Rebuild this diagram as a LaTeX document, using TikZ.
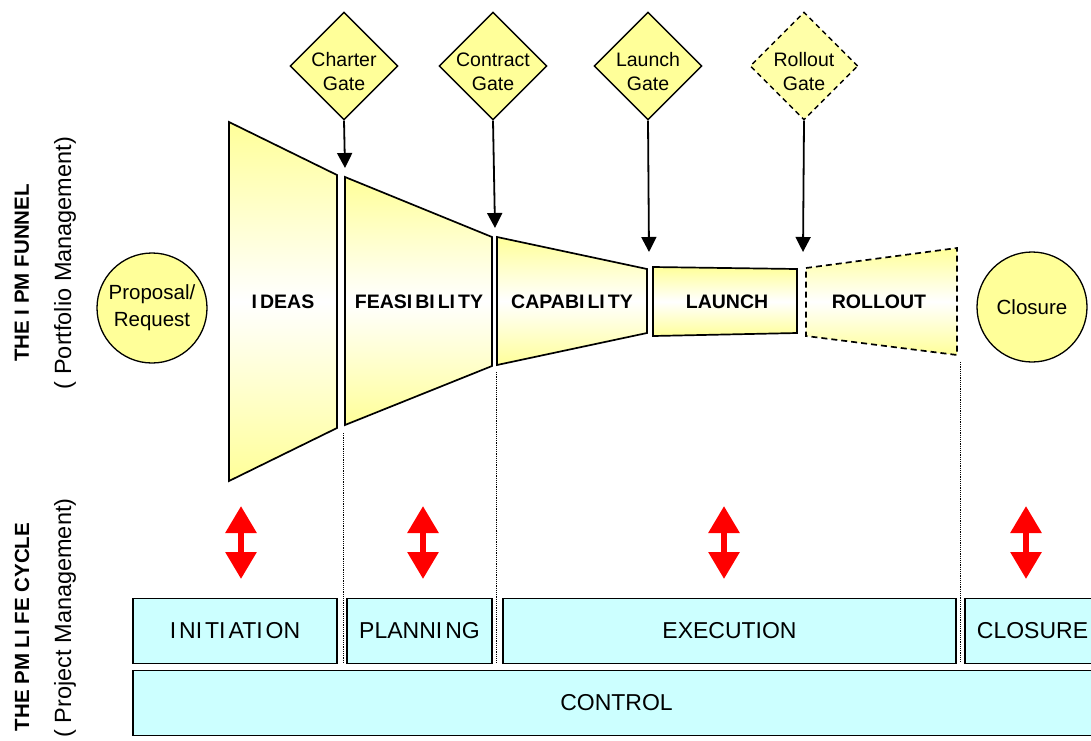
\documentclass[tikz,border=0pt]{standalone}
\usepackage{fontspec}
\setmainfont{Liberation Sans}
\usetikzlibrary{arrows.meta,shapes.geometric}
\definecolor{ipmyellow}{HTML}{FFFF99}
\definecolor{ipmcyan}{HTML}{CCFFFF}
\definecolor{ipmred}{HTML}{FF0000}
\newcommand{\gp}{\kern3pt}
\begin{document}
\begin{tikzpicture}[x=1pt,y=-1pt,
  funnelseg/.style={draw=black, line width=1.7pt, line join=miter, top color=ipmyellow, bottom color=ipmyellow, middle color=white},
  funneltext/.style={font=\bfseries\fontsize{19.5}{22}\selectfont},
  gate/.style={diamond, draw=black, line width=1.4pt, fill=ipmyellow, minimum width=108pt, minimum height=108pt, inner sep=0pt},
  gatetext/.style={align=center, font=\fontsize{19.5}{24}\selectfont},
  gatearrow/.style={draw=black, line width=1.8pt, -{Triangle[length=15pt,width=15pt]}},
  endcircle/.style={circle, draw=black, line width=1.3pt, fill=ipmyellow, minimum size=110pt, inner sep=0pt, align=center, font=\fontsize{20.5}{27}\selectfont},
  lcbox/.style={draw=black, line width=1.4pt, fill=ipmcyan, inner sep=0pt, minimum height=65pt, font=\fontsize{23}{25}\selectfont},
  dotline/.style={draw=black, line width=1pt, dash pattern=on 1.2pt off 1pt},
  redarrow/.style={draw=ipmred, line width=6pt, {Triangle[length=27pt,width=30pt]}-{Triangle[length=27pt,width=30pt]}},
  sidebold/.style={rotate=90, font=\bfseries\fontsize{20.5}{22}\selectfont},
  sidereg/.style={rotate=90, font=\fontsize{23.5}{26}\selectfont}
]
\useasboundingbox (0,0) rectangle (1091,740);

% side labels
\node[sidebold] (lab1) at (22,273) {THE I PM FUNNEL};
\node[sidereg] (lab2) at (65,263) {( Portfolio Management)};
\node[sidebold] (lab3) at (22,627) {THE PM LI FE CYCLE};
\node[sidereg] (lab4) at (65,618) {( Project Management)};

% end circles
\node[endcircle] (prop) at (152,308) {Proposal/\\Request};
\node[endcircle] (clos) at (1032,307) {Closure};

% funnel segments
\path[funnelseg] (229,122) -- (337,175) -- (337,428) -- (229,481) -- cycle;
\path[funnelseg] (345,177) -- (492,237) -- (492,366) -- (345,425) -- cycle;
\path[funnelseg] (497,237) -- (647,269) -- (647,333) -- (497,365) -- cycle;
\path[funnelseg] (653,267) -- (797,269) -- (797,333) -- (653,336) -- cycle;
\path[funnelseg, dash pattern=on 6pt off 4pt] (806,268) -- (957,248) -- (957,355) -- (806,336) -- cycle;
\node[funneltext] (ideas) at (283,302) {I\gp DEAS};
\node[funneltext] (feas) at (419,302) {FEASI\gp BI\gp LI\gp TY};
\node[funneltext] (capa) at (572,302) {CAPABI\gp LI\gp TY};
\node[funneltext] (laun) at (727,302) {LAUNCH};
\node[funneltext] (roll) at (879,302) {ROLLOUT};

% gates
\node[gate] (g1) at (344,66) {};
\node[gate] (g2) at (493,66) {};
\node[gate] (g3) at (648,66) {};
\node[gate, dash pattern=on 5pt off 4pt, fill=ipmyellow!85!white] (g4) at (804,66) {};
\node[gatetext] (g1t) at (344,72) {Charter\\Gate};
\node[gatetext] (g2t) at (493,72) {Contract\\Gate};
\node[gatetext] (g3t) at (648,72) {Launch\\Gate};
\node[gatetext] (g4t) at (804,72) {Rollout\\Gate};

\coordinate (t1) at (345,168);
\coordinate (t2) at (495,228);
\coordinate (t3) at (649,252);
\coordinate (t4) at (803,252);
\draw[gatearrow] (g1.south) -- (t1);
\draw[gatearrow] (g2.south) -- (t2);
\draw[gatearrow] (g3.south) -- (t3);
\draw[gatearrow] (g4.south) -- (t4);

% dotted separators
\coordinate (d1a) at (343,433); \coordinate (d1b) at (343,663);
\coordinate (d2a) at (496,372); \coordinate (d2b) at (496,663);
\coordinate (d3a) at (960,362); \coordinate (d3b) at (960,663);
\draw[dotline] (d1a) -- (d1b);
\draw[dotline] (d2a) -- (d2b);
\draw[dotline] (d3a) -- (d3b);

% red double arrows
\coordinate (r1a) at (241,506); \coordinate (r1b) at (241,579);
\coordinate (r2a) at (423,506); \coordinate (r2b) at (423,579);
\coordinate (r3a) at (724,506); \coordinate (r3b) at (724,579);
\coordinate (r4a) at (1026,506); \coordinate (r4b) at (1026,579);
\draw[redarrow] (r1a) -- (r1b);
\draw[redarrow] (r2a) -- (r2b);
\draw[redarrow] (r3a) -- (r3b);
\draw[redarrow] (r4a) -- (r4b);

% life cycle boxes
\node[lcbox, minimum width=204pt] (init) at (235,631) {I\gp NI\gp TI\gp ATI\gp ON};
\node[lcbox, minimum width=145pt] (plan) at (419.5,631) {PLANNI\gp NG};
\node[lcbox, minimum width=453pt] (exec) at (729.5,631) {EXECUTION};
\node[lcbox, minimum width=135pt] (closb) at (1032.5,631) {CLOSURE};
\node[lcbox, minimum width=967pt] (ctrl) at (616.5,703) {CONTROL};
\end{tikzpicture}
\end{document}
